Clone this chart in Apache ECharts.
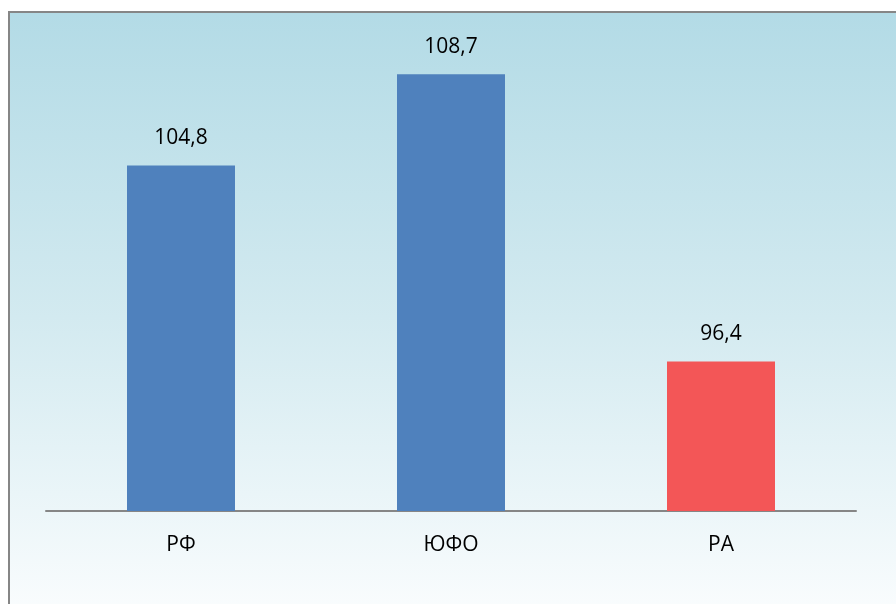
<!DOCTYPE html>
<html>
<head>
<meta charset="utf-8">
<script src="https://cdn.jsdelivr.net/npm/echarts@6/dist/echarts.min.js"></script>
<style>
  html, body { margin: 0; padding: 0; width: 896px; height: 604px; overflow: hidden; background: #fff; }
  .box {
    position: absolute; left: 8px; top: 11px; width: 900px; height: 610px;
    border: 2px solid #868686;
    background: linear-gradient(to bottom, #b3dbe6 0%, #d3eaf0 50%, #fbfdfe 100%);
  }
  .echart { position: absolute; left: 0; top: 0; width: 896px; height: 604px; }
</style>
</head>
<body>
<div class="box"></div>
<div id="chart" class="echart"></div>
<script>
const categories = ['РФ', 'ЮФО', 'РА']
const values = [104.8, 108.7, 96.4]
const barColors = ['#4f81bd', '#4f81bd', '#f35657']

var myChart = echarts.init(document.getElementById('chart'))
myChart.setOption({
  backgroundColor: 'transparent',
  animation: false,
  grid: { left: 46, right: 40, top: 44, bottom: 93 },
  xAxis: {
    type: 'category',
    data: categories,
    axisLine: { lineStyle: { color: '#868686', width: 2 } },
    axisTick: { show: false },
    axisLabel: { color: '#000', fontSize: 21, margin: 24, fontFamily: 'Open Sans' }
  },
  yAxis: {
    type: 'value',
    min: 90,
    max: 110,
    show: false
  },
  series: [
    {
      type: 'bar',
      barWidth: '40%',
      data: values.map((v, i) => ({ value: v, itemStyle: { color: barColors[i] } })),
      label: {
        show: true,
        position: 'top',
        distance: 17,
        color: '#000',
        fontSize: 21,
        fontFamily: 'Open Sans',
        formatter: p => String(p.value).replace('.', ',')
      }
    }
  ]
})
</script>
</body>
</html>
